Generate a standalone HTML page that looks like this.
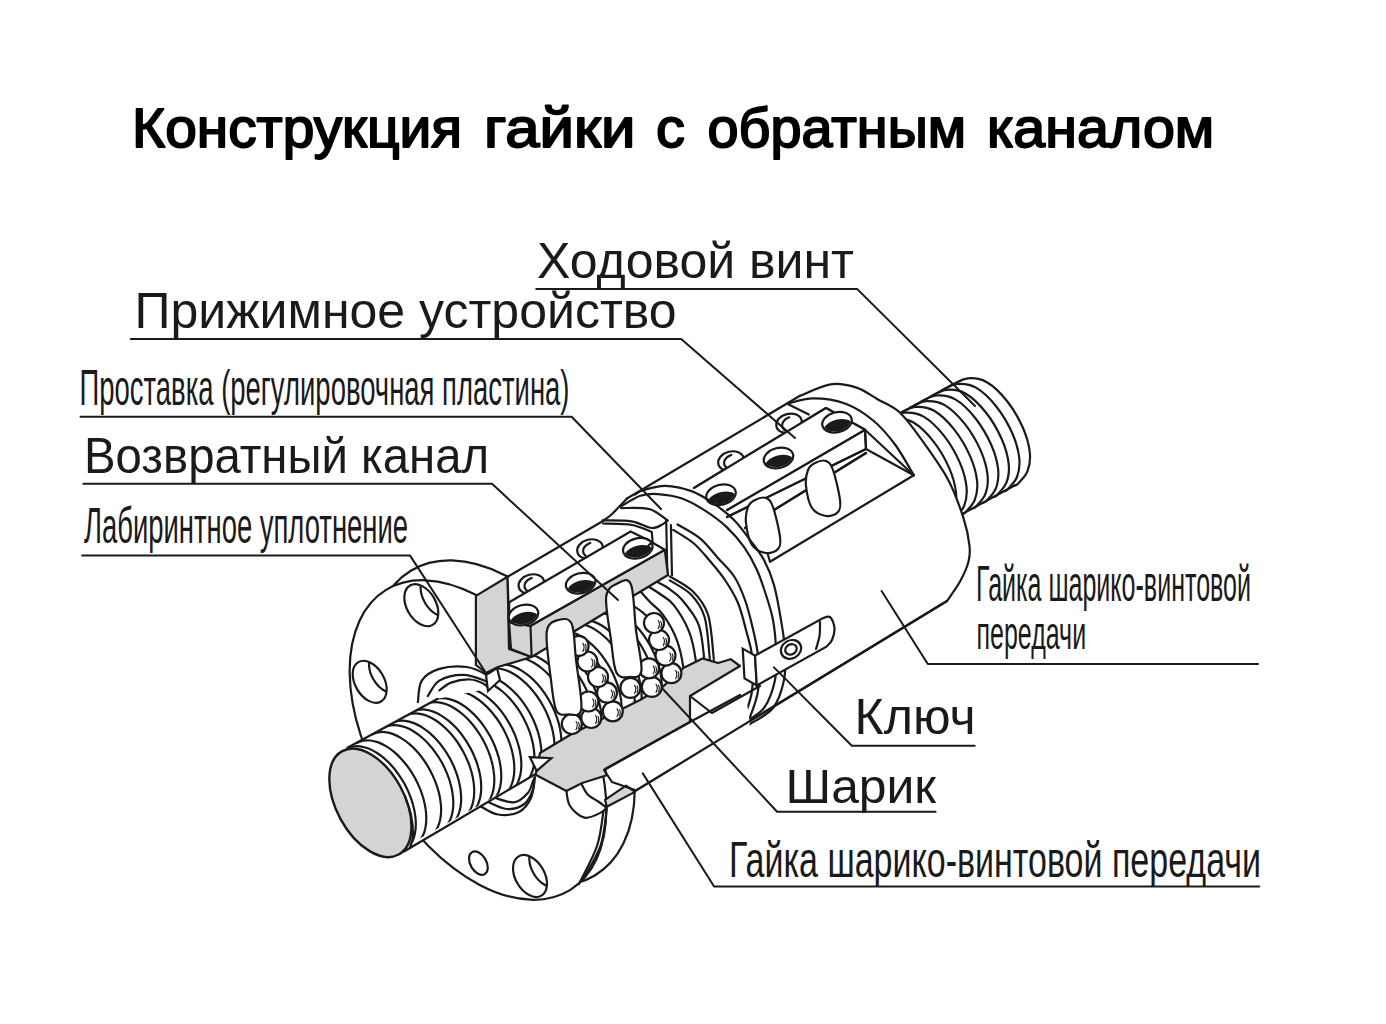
<!DOCTYPE html>
<html><head><meta charset="utf-8">
<style>
html,body{margin:0;padding:0;background:#fff;}
body{width:1386px;height:1024px;overflow:hidden;}
svg{display:block;}
text{font-family:"Liberation Sans",sans-serif;fill:#1a1a1a;}
.t{font-weight:normal;fill:#000;stroke:#000;stroke-width:1.7;stroke-linejoin:round;stroke-linecap:round;}
.ln,.ld{fill:none;stroke:#1a1a1a;stroke-width:2.2;stroke-linejoin:round;stroke-linecap:round;}
.ld{stroke-width:2;}
.wf{fill:#fff;stroke:none;}
.wl{fill:#fff;stroke:#1a1a1a;stroke-width:2.2;}
.gray{fill:#d3d5d5;stroke:#1a1a1a;stroke-width:2.2;stroke-linejoin:round;}
.face{fill:#d3d5d5;stroke:#1a1a1a;stroke-width:2.4;}
.thin{fill:none;stroke:#1a1a1a;stroke-width:1.1;}
.blk{fill:#1a1a1a;stroke:none;}
</style></head><body>
<svg width="1386" height="1024" viewBox="0 0 1386 1024">
<g id="texts">
<text transform="translate(132.0 147.0) scale(1 1.1)" x="0" y="0" font-size="50" textLength="330.1" lengthAdjust="spacingAndGlyphs" class="t">Конструкция</text>
<text transform="translate(484.0 147.0) scale(1 1.1)" x="0" y="0" font-size="50" textLength="151.4" lengthAdjust="spacingAndGlyphs" class="t">гайки</text>
<text transform="translate(656.0 147.0) scale(1 1.1)" x="0" y="0" font-size="50" textLength="29.0" lengthAdjust="spacingAndGlyphs" class="t">с</text>
<text transform="translate(707.5 147.0) scale(1 1.1)" x="0" y="0" font-size="50" textLength="258.6" lengthAdjust="spacingAndGlyphs" class="t">обратным</text>
<text transform="translate(987.0 147.0) scale(1 1.1)" x="0" y="0" font-size="50" textLength="227.3" lengthAdjust="spacingAndGlyphs" class="t">каналом</text>
<text x="537.0" y="277.9" font-size="50.6" textLength="317.0" lengthAdjust="spacingAndGlyphs">Ходовой винт</text>
<text x="134.5" y="327.6" font-size="50.6" textLength="542.1" lengthAdjust="spacingAndGlyphs">Прижимное устройство</text>
<text x="79.5" y="405.4" font-size="49.6" textLength="490.0" lengthAdjust="spacingAndGlyphs">Проставка (регулировочная пластина)</text>
<text x="84.0" y="472.9" font-size="49.6" textLength="405.1" lengthAdjust="spacingAndGlyphs">Возвратный канал</text>
<text x="84.0" y="542.9" font-size="50.1" textLength="324.0" lengthAdjust="spacingAndGlyphs">Лабиринтное уплотнение</text>
<text x="976.0" y="600.8" font-size="50.6" textLength="275.0" lengthAdjust="spacingAndGlyphs">Гайка шарико-винтовой</text>
<text x="976.5" y="648.9" font-size="46.5" textLength="109.6" lengthAdjust="spacingAndGlyphs">передачи</text>
<text x="854.5" y="734.1" font-size="50.6" textLength="121.0" lengthAdjust="spacingAndGlyphs">Ключ</text>
<text x="785.5" y="802.9" font-size="48.9" textLength="150.6" lengthAdjust="spacingAndGlyphs">Шарик</text>
<text x="729.0" y="876.9" font-size="49.3" textLength="532.0" lengthAdjust="spacingAndGlyphs">Гайка шарико-винтовой передачи</text>
</g>
<path class="wf" d="M880 424.6 L952.5 384.5 C955.1 383.5 962.3 378.7 968 378.3 C973.7 377.9 980.4 378.4 986.9 382.2 C993.4 386 1001 393.4 1007 401 C1013 408.6 1019 418.9 1022.8 427.5 C1026.6 436.1 1029 445.2 1029.8 452.5 C1030.6 459.8 1029.5 466 1027.5 471.2 C1025.5 476.5 1020.1 481.4 1018 483.8 C1015.9 486.1 1015.5 485 1015 485.3 L930 531.5 Z"/>
<path class="ln" d="M880 424.6 L952.5 384.5"/>
<path class="ln" d="M952.5 384.5 C955.1 383.5 962.3 378.7 968 378.3 C973.7 377.9 980.4 378.4 986.9 382.2 C993.4 386 1001 393.4 1007 401 C1013 408.6 1019 418.9 1022.8 427.5 C1026.6 436.1 1029 445.2 1029.8 452.5 C1030.6 459.8 1029.5 466 1027.5 471.2 C1025.5 476.5 1020.1 481.4 1018 483.8 C1015.9 486.1 1015.5 485 1015 485.3"/>
<path class="ln" d="M1015 485.3 L930 531.5"/>
<path class="ln" d="M942 390.2 C944.5 389.2 951.7 384.4 957.5 384 C963.2 383.6 969.9 384.1 976.4 387.9 C982.9 391.7 990.5 399.2 996.5 406.7 C1002.4 414.3 1008.5 424.6 1012.3 433.2 C1016.1 441.8 1018.5 450.9 1019.3 458.2 C1020 465.5 1018.9 471.8 1017 477 C1015 482.2 1009.5 487.1 1007.5 489.5 C1005.4 491.8 1005 490.8 1004.5 491"/>
<path class="ln" d="M931.4 396 C934 394.9 941.2 390.1 946.9 389.8 C952.6 389.4 959.3 389.9 965.8 393.7 C972.3 397.4 979.9 404.9 985.9 412.5 C991.9 420 997.9 430.4 1001.7 439 C1005.5 447.5 1007.9 456.7 1008.7 464 C1009.5 471.2 1008.4 477.5 1006.4 482.7 C1004.4 487.9 999 492.9 996.9 495.2 C994.8 497.5 994.4 496.5 993.9 496.8"/>
<path class="ln" d="M920.9 401.7 C923.4 400.6 930.6 395.9 936.4 395.5 C942.1 395.1 948.8 395.6 955.3 399.4 C961.8 403.2 969.4 410.6 975.4 418.2 C981.3 425.7 987.4 436.1 991.2 444.7 C995 453.3 997.4 462.4 998.2 469.7 C998.9 477 997.8 483.2 995.9 488.4 C993.9 493.6 988.4 498.6 986.4 500.9 C984.3 503.3 983.9 502.2 983.4 502.5"/>
<path class="ln" d="M910.3 407.4 C912.9 406.4 920.1 401.6 925.8 401.2 C931.6 400.8 938.2 401.3 944.7 405.1 C951.2 408.9 958.8 416.4 964.8 423.9 C970.8 431.5 976.8 441.8 980.6 450.4 C984.4 459 986.8 468.1 987.6 475.4 C988.4 482.7 987.3 488.9 985.3 494.2 C983.4 499.4 977.9 504.3 975.8 506.7 C973.7 509 973.3 507.9 972.8 508.2"/>
<path class="ln" d="M899.8 413.1 C902.4 412.1 909.5 407.3 915.3 406.9 C921 406.5 927.7 407 934.2 410.8 C940.7 414.6 948.3 422.1 954.3 429.6 C960.3 437.2 966.3 447.5 970.1 456.1 C973.9 464.7 976.3 473.8 977.1 481.1 C977.9 488.4 976.7 494.7 974.8 499.9 C972.8 505.1 967.4 510 965.3 512.4 C963.2 514.7 962.8 513.7 962.3 513.9"/>
<path class="ln" d="M889.2 418.9 C891.8 417.8 899 413 904.7 412.7 C910.5 412.3 917.1 412.8 923.6 416.6 C930.1 420.3 937.7 427.8 943.7 435.4 C949.7 442.9 955.7 453.3 959.5 461.9 C963.3 470.4 965.7 479.6 966.5 486.9 C967.3 494.1 966.2 500.4 964.2 505.6 C962.3 510.8 956.8 515.8 954.7 518.1 C952.6 520.4 952.2 519.4 951.7 519.7"/>
<path class="ln" d="M878.7 424.6 C881.3 423.5 888.4 418.8 894.2 418.4 C899.9 418 906.6 418.5 913.1 422.3 C919.6 426.1 927.2 433.5 933.2 441.1 C939.2 448.6 945.2 459 949 467.6 C952.8 476.2 955.2 485.3 956 492.6 C956.8 499.9 955.6 506.1 953.7 511.3 C951.7 516.5 946.3 521.5 944.2 523.8 C942.1 526.2 941.7 525.1 941.2 525.4"/>
<path class="wf" d="M621.6 504 L800 395.8 C805.1 393.9 821.1 385.7 830.5 384.3 C839.9 382.9 848.6 385.1 856.5 387.6 C864.4 390.1 870.8 395.4 878 399.5 C885.2 403.6 892.6 406 899.7 412.5 C906.8 419 912.6 427.2 920.6 438.4 C928.6 449.5 940.8 466.1 948 479.4 C955.2 492.7 960 507.3 963.6 518.4 C967.2 529.5 968.7 538.5 969.5 545.8 C970.3 553.1 970 556 968.4 562 C966.8 568 963.6 575 960 581.5 C956.4 588 949.2 597.8 947 601 L745 723.4 L750 724 C753.8 721.3 767.3 715.3 773 708 C778.7 700.7 782 689.7 784 680 C786 670.3 785.5 660 785 650 C784.5 640 782.8 630.8 781 620 C779.2 609.2 776.8 595 774 585 C771.2 575 768 567.5 764 560 C760 552.5 755 546.7 750 540 C745 533.3 740.1 526.1 734 520 C727.9 513.9 720.6 508.2 713.5 503.4 C706.4 498.6 699.5 494 691.5 491.1 C683.5 488.2 673.2 486 665.2 485.8 C657.2 485.6 648.2 488.8 643.2 490.2 C638.2 491.6 636.4 493.8 635 494.5 Z"/>
<path class="ln" d="M800 395.8 C805.1 393.9 821.1 385.7 830.5 384.3 C839.9 382.9 848.6 385.1 856.5 387.6 C864.4 390.1 870.8 395.4 878 399.5 C885.2 403.6 892.6 406 899.7 412.5 C906.8 419 912.6 427.2 920.6 438.4 C928.6 449.5 940.8 466.1 948 479.4 C955.2 492.7 960 507.3 963.6 518.4 C967.2 529.5 968.7 538.5 969.5 545.8 C970.3 553.1 970 556 968.4 562 C966.8 568 963.6 575 960 581.5 C956.4 588 949.2 597.8 947 601 L635 791"/>
<path class="ln" d="M787.2 403.8 C791.5 402.9 803.5 398.4 813.2 398.4 C822.9 398.4 835.5 400 845.6 403.8 C855.7 407.6 865.5 414.1 873.8 421 C882.1 427.9 888.7 436 895.4 445 C902.1 454 910.7 470.2 913.8 475.2"/>
<path class="ln" d="M770 561.8 L913.8 475.2"/>
<path class="ln" d="M866 449 L913.8 475.2"/>
<path class="ln" d="M865 429.8 L913.8 475.2"/>
<path class="ln" d="M700 500 L787.2 450"/>
<path class="ln" d="M694 488 L826 408 L865 429.8 L866 449 L727 517"/>
<path class="ln" d="M745 528 L866 453"/>
<path class="ln" d="M727 510 L865 429.8"/>
<path class="ln" d="M787.2 403.8 L808.8 414.6"/>
<path class="ln" d="M766 548 L770 561.8"/>
<ellipse class="wl" cx="731" cy="461" rx="13" ry="9.5" transform="rotate(-14 731 461)"/>
<path class="ln" d="M735 469.5 C734.5 469.5 733 469.7 732 469.7 C731.1 469.6 730.1 469.4 729.3 469.2 C728.5 468.9 727.6 468.5 727 468.1 C726.3 467.6 725.7 467.1 725.3 466.4 C724.8 465.8 724.5 465.1 724.3 464.4 C724.1 463.7 724.1 462.9 724.2 462.2 C724.3 461.4 724.6 460.7 724.9 459.9 C725.3 459.2 725.9 458.5 726.5 457.9 C727.1 457.2 727.9 456.6 728.7 456.2 C729.5 455.7 730.9 455.2 731.3 455"/>
<ellipse class="wl" cx="789" cy="423.3" rx="13" ry="9.5" transform="rotate(-14 789 423.3)"/>
<path class="ln" d="M793 431.8 C792.5 431.8 791 432 790 432 C789.1 431.9 788.1 431.7 787.3 431.5 C786.5 431.2 785.6 430.8 785 430.4 C784.3 429.9 783.7 429.4 783.3 428.7 C782.8 428.1 782.5 427.4 782.3 426.7 C782.1 426 782.1 425.2 782.2 424.5 C782.3 423.7 782.6 423 782.9 422.2 C783.3 421.5 783.9 420.8 784.5 420.2 C785.1 419.5 785.9 418.9 786.7 418.5 C787.5 418 788.9 417.5 789.3 417.3"/>
<path class="wf" d="M660 509 L694 488 L826 408 L865 429.8 L727 510 L700 526 Z"/>
<path class="ln" d="M694 488 L826 408 L865 429.8 L866 449 L727 517"/>
<path class="ln" d="M745 528 L866 453"/>
<path class="ln" d="M727 510 L865 429.8"/>
<ellipse class="wl" cx="721" cy="494.7" rx="15" ry="10" transform="rotate(-14 721 494.7)"/>
<clipPath id="hd1"><ellipse cx="721" cy="494.7" rx="14" ry="9" transform="rotate(-14 721 494.7)"/></clipPath>
<g clip-path="url(#hd1)">
<ellipse class="blk" cx="722.5" cy="501.9" rx="15.8" ry="10" transform="rotate(-14 722.5 501.9)"/>
</g>
<ellipse class="wl" cx="778.5" cy="458" rx="15" ry="10" transform="rotate(-14 778.5 458)"/>
<clipPath id="hd2"><ellipse cx="778.5" cy="458" rx="14" ry="9" transform="rotate(-14 778.5 458)"/></clipPath>
<g clip-path="url(#hd2)">
<ellipse class="blk" cx="780" cy="465.2" rx="15.8" ry="10" transform="rotate(-14 780 465.2)"/>
</g>
<ellipse class="wl" cx="837" cy="422.2" rx="15" ry="10" transform="rotate(-14 837 422.2)"/>
<clipPath id="hd3"><ellipse cx="837" cy="422.2" rx="14" ry="9" transform="rotate(-14 837 422.2)"/></clipPath>
<g clip-path="url(#hd3)">
<ellipse class="blk" cx="838.5" cy="429.4" rx="15.8" ry="10" transform="rotate(-14 838.5 429.4)"/>
</g>
<path class="wl" d="M755 500 C758 498.5 763 496.8 766 498 C769 499.2 770.7 500.5 773 507 C775.3 513.5 779.2 530 780 537 C780.8 544 780.3 546.3 778 549 C775.7 551.7 770.3 553.7 766 553 C761.7 552.3 755.3 550 752 545 C748.7 540 746.7 529.3 746 523 C745.3 516.7 746.5 510.8 748 507 C749.5 503.2 752 501.5 755 500 Z"/>
<path class="wl" d="M815 463 C818 461.5 823 459.8 826 461 C829 462.2 830.7 463.5 833 470 C835.3 476.5 839.2 493 840 500 C840.8 507 840.3 509.3 838 512 C835.7 514.7 830.3 516.7 826 516 C821.7 515.3 815.3 513 812 508 C808.7 503 806.7 492.3 806 486 C805.3 479.7 806.5 473.8 808 470 C809.5 466.2 812 464.5 815 463 Z"/>
<path class="ln" d="M635 494.5 C636.4 493.8 638.2 491.6 643.2 490.2 C648.2 488.8 657.2 485.6 665.2 485.8 C673.2 486 683.5 488.2 691.5 491.1 C699.5 494 706.4 498.6 713.5 503.4 C720.6 508.2 727.9 513.9 734 520 C740.1 526.1 745 533.3 750 540 C755 546.7 760 552.5 764 560 C768 567.5 771.2 575 774 585 C776.8 595 779.2 609.2 781 620 C782.8 630.8 784.5 640 785 650 C785.5 660 786 670.3 784 680 C782 689.7 778.7 700.7 773 708 C767.3 715.3 753.8 721.3 750 724"/>
<path class="ln" d="M621 506.4 C624.2 504.6 634.1 497.9 640.3 495.8 C646.4 493.8 650.9 493.7 657.9 494.1 C664.9 494.6 674.2 495.8 682 498.5 C689.8 501.2 697.2 505.6 704.7 510.4 C712.2 515.2 720.1 520.9 726.7 527.1 C733.3 533.3 739.2 540.2 744.3 547.4 C749.3 554.5 753.4 562.1 757 570 C760.6 577.9 763.3 586.7 766 595 C768.7 603.3 771.3 610.8 773 620 C774.7 629.2 775.7 640 776 650 C776.3 660 777 670.3 775 680 C773 689.7 769 701 764 708 C759 715 748.2 719.7 745 722"/>
<path class="ln" d="M677.5 524.5 C681.3 526.9 693.6 533 700.3 538.6 C707 544.2 712.2 551.5 717.9 557.9 C723.6 564.3 730 570 734.5 577 C739 584 742.1 592 745 600 C747.9 608 749.8 615.7 752 625 C754.2 634.3 757 645 758 656 C759 667 759.5 680.3 758 691 C756.5 701.7 750.5 715.2 749 720"/>
<path class="ln" d="M673.1 529.8 C676.5 532 687.3 538 693.3 543 C699.3 548 703.8 553.8 709.1 560 C714.4 566.2 720.2 572.8 725 580 C729.8 587.2 734.5 594.7 738 603 C741.5 611.3 743.7 621.2 746 630 C748.3 638.8 751 645.8 752 656 C753 666.2 753.3 680.7 752 691 C750.7 701.3 745.3 713.5 744 718"/>
<path class="ln" d="M666.2 520.4 L667.4 575.5"/>
<path class="ln" d="M670.9 525 L672 575.5"/>
<path class="wl" d="M742.7 648.6 L755 655.6 L756.8 685.5 L744.5 678.4 Z"/>
<path class="wl" d="M755 655.6 L821.8 618.7 L821.8 618.7 C823.2 618.4 827.9 615.5 830 617 C832.1 618.5 834.2 624.2 834.5 628 C834.8 631.8 833.4 636.8 832 640 C830.6 643.2 827 645.8 826 647 L756.8 685.5 Z"/>
<path class="ln" d="M820 622 C819.9 624.3 820.2 631.5 819.5 636 C818.8 640.5 816.6 646.8 816 649"/>
<ellipse class="wl" cx="791" cy="649.4" rx="10.5" ry="9" transform="rotate(-30 791 649.4)"/>
<ellipse class="wl" cx="791" cy="649.4" rx="6" ry="5" transform="rotate(-30 791 649.4)"/>
<ellipse class="wl" cx="503" cy="723" rx="178" ry="110" transform="rotate(58.8 503 723)"/>
<ellipse class="wl" cx="478" cy="740" rx="176" ry="105" transform="rotate(58.5 478 740)"/>
<ellipse class="wl" cx="421.3" cy="605.2" rx="22.7" ry="14.6" transform="rotate(60 421.3 605.2)"/>
<clipPath id="fh0"><ellipse cx="421.3" cy="605.2" rx="22.7" ry="14.6" transform="rotate(60 421.3 605.2)"/></clipPath>
<g clip-path="url(#fh0)">
<ellipse class="ln" cx="437.6" cy="595.4" rx="22.7" ry="14.6" transform="rotate(60 437.6 595.4)"/>
</g>
<ellipse class="wl" cx="369.7" cy="681.8" rx="22.7" ry="14.6" transform="rotate(60 369.7 681.8)"/>
<clipPath id="fh1"><ellipse cx="369.7" cy="681.8" rx="22.7" ry="14.6" transform="rotate(60 369.7 681.8)"/></clipPath>
<g clip-path="url(#fh1)">
<ellipse class="ln" cx="386" cy="672" rx="22.7" ry="14.6" transform="rotate(60 386 672)"/>
</g>
<ellipse class="wl" cx="478.4" cy="863.1" rx="12.7" ry="8" transform="rotate(60 478.4 863.1)"/>
<ellipse class="wl" cx="530" cy="876" rx="22.7" ry="14.6" transform="rotate(60 530 876)"/>
<clipPath id="fh3"><ellipse cx="530" cy="876" rx="22.7" ry="14.6" transform="rotate(60 530 876)"/></clipPath>
<g clip-path="url(#fh3)">
<ellipse class="ln" cx="546.3" cy="866.2" rx="22.7" ry="14.6" transform="rotate(60 546.3 866.2)"/>
</g>
<path class="ln" d="M566.4 791 C567 793.5 567 801.5 570 806 C573 810.5 579.2 816.7 584.5 817.7 C589.8 818.7 598.3 813.8 602 812 C605.7 810.2 606 807.7 606.8 806.8"/>
<path class="ln" d="M606.8 808.6 C605.8 814.8 604.7 833.5 600.6 845.5 C596.5 857.5 585.3 874.8 582.2 880.6"/>
<path class="ln" d="M603.5 811 C602.4 816.8 601.1 833.8 597 846 C592.9 858.2 581.9 877.7 578.9 884"/>
<path class="ln" d="M581.5 784 C582.5 785.8 584.9 791.6 587.7 794.5 C590.5 797.4 595.3 799.5 598.2 801.5 C601.1 803.5 604.1 805.9 605.3 806.8"/>
<path class="wf" d="M417.8 706.8 C411.8 689.1 420.6 690 424 684 C427.4 678 433 673.7 438 670.8 C443 667.9 448.2 666.7 453.8 666.4 C459.4 666.1 465 666.1 471.4 669 C477.8 671.9 480.6 668.8 492 684 C503.4 699.2 532.5 744.8 540 760 C547.5 775.2 538.2 768.3 537 775 C535.8 781.7 535.8 793.5 533 800 C530.2 806.5 526.2 811.3 520.4 814 C514.6 816.7 504.7 817 498 816 C491.3 815 486.3 812.3 480 808 C473.7 803.7 470.4 806.9 460 790 C449.6 773.1 423.8 724.5 417.8 706.8 Z"/>
<path class="wf" d="M486 673 L509 649 L531.6 657 L668 575 L693.8 595 L709.4 618.4 L716 650 L716 665 L540 760 L520 782 L488 690 Z"/>
<path class="ln" d="M417.9 702.1 C418.5 698.5 418.2 686.1 421.8 680.6 C425.4 675.1 431.9 671.2 439.4 668.9 C446.9 666.6 458.9 666 466.7 667 C474.5 668 482.1 672.3 486.3 674.8 C490.5 677.3 491.1 680.8 492 682"/>
<path class="ln" d="M427.7 696.2 C429.6 693.6 433.5 684.2 439.4 680.6 C445.2 677 455.3 674.8 462.8 674.8 C470.3 674.8 479.8 678.7 484.3 680.6 C488.8 682.5 489.1 685.1 490 686"/>
<path class="ln" d="M439.4 690.4 C441.3 689.1 446 684.4 451.1 682.6 C456.2 680.8 464.5 679.3 470 679.5 C475.5 679.7 480.7 682.2 484 684 C487.3 685.8 489 689 490 690"/>
<path class="ln" d="M480 806 C483 807.4 491.5 813.5 498 814.5 C504.5 815.5 513.5 814.8 519 812 C524.5 809.2 528.3 803.8 531 798 C533.7 792.2 534.3 780.5 535 777"/>
<path class="ln" d="M486 801 C489.5 802.3 500.4 808.5 506.8 809 C513.2 809.5 520 807.3 524.4 804 C528.8 800.7 531.6 793.5 533.2 789.2 C534.8 784.9 533.9 779.9 534 778"/>
<path class="ln" d="M492.7 797 C496.2 797.9 507.9 803 513.8 802.3 C519.7 801.6 524.8 796.4 528 792.7 C531.2 789.1 532.3 782.5 533.2 780.4"/>
<path class="wf" d="M350.5 747.7 L437.7 698.8 L492 688 L540 770 L543.6 769.3 L404 851.5 Z"/>
<path class="ln" d="M347.4 747.8 L437.7 698.8"/>
<path class="ln" d="M404 851.5 L543.6 769.3"/>
<clipPath id="scr"><path d="M340 752 L437.7 698.8 L492 688 L540 770 L543.6 769.3 L385 858 Z M486 673 L509 649 L531.6 657 L668 575 L693.8 595 L709.4 618.4 L716 650 L716 665 L540 760 L520 782 L488 690 Z"/></clipPath>
<g clip-path="url(#scr)">
<path class="ln" d="M346.6 748.6 C347.6 748.3 350.7 746.8 352.9 746.5 C355.2 746.1 357.6 746 360.1 746.3 C362.6 746.7 365.3 747.3 367.9 748.3 C370.5 749.3 373.3 750.6 375.9 752.3 C378.6 753.9 381.3 755.9 383.9 758.1 C386.5 760.3 389.1 762.8 391.5 765.5 C394 768.2 396.4 771.2 398.5 774.3 C400.7 777.4 402.8 780.7 404.6 784.1 C406.4 787.4 408.1 791 409.5 794.5 C411 798 412.2 801.6 413.1 805.1 C414.1 808.6 414.8 812.2 415.2 815.6 C415.7 818.9 415.9 822.3 415.8 825.4 C415.7 828.5 415.4 831.6 414.8 834.3 C414.2 837.1 413.3 839.6 412.2 841.9 C411.1 844.2 409.8 846.2 408.2 847.9 C406.7 849.6 403.8 851.4 403 852.1"/>
<path class="ln" d="M357 742.8 C358.1 742.4 361.1 741 363.4 740.6 C365.7 740.2 368.1 740.2 370.6 740.5 C373.1 740.8 375.7 741.5 378.4 742.4 C381 743.4 383.7 744.8 386.4 746.4 C389.1 748 391.8 750 394.4 752.2 C397 754.4 399.6 757 402 759.7 C404.5 762.4 406.8 765.3 409 768.4 C411.2 771.5 413.2 774.8 415.1 778.2 C416.9 781.6 418.6 785.1 420 788.6 C421.4 792.1 422.6 795.7 423.6 799.2 C424.5 802.7 425.3 806.3 425.7 809.7 C426.2 813.1 426.3 816.4 426.3 819.5 C426.2 822.7 425.8 825.7 425.3 828.4 C424.7 831.2 423.8 833.8 422.7 836 C421.6 838.3 420.2 840.3 418.7 842 C417.2 843.7 414.3 845.5 413.4 846.2"/>
<path class="ln" d="M371.9 734.4 C372.9 734.1 376 732.6 378.2 732.3 C380.5 731.9 382.9 731.8 385.4 732.2 C387.9 732.5 390.6 733.1 393.2 734.1 C395.8 735.1 398.6 736.5 401.2 738.1 C403.9 739.7 406.6 741.7 409.2 743.9 C411.8 746.1 414.4 748.6 416.8 751.3 C419.3 754 421.7 757 423.8 760.1 C426 763.2 428.1 766.5 429.9 769.9 C431.7 773.2 433.4 776.8 434.8 780.3 C436.2 783.8 437.5 787.4 438.4 790.9 C439.4 794.4 440.1 798 440.5 801.4 C441 804.7 441.2 808.1 441.1 811.2 C441 814.3 440.7 817.4 440.1 820.1 C439.5 822.9 438.6 825.4 437.5 827.7 C436.4 830 435.1 832 433.5 833.7 C432 835.4 429.1 837.2 428.2 837.9"/>
<path class="ln" d="M384.1 727.6 C385.1 727.2 388.2 725.8 390.4 725.4 C392.7 725 395.1 725 397.6 725.3 C400.1 725.6 402.8 726.3 405.4 727.3 C408 728.3 410.8 729.6 413.4 731.2 C416.1 732.9 418.8 734.8 421.4 737 C424 739.3 426.6 741.8 429 744.5 C431.5 747.2 433.9 750.2 436 753.3 C438.2 756.3 440.3 759.7 442.1 763 C443.9 766.4 445.6 769.9 447 773.4 C448.5 776.9 449.7 780.6 450.6 784.1 C451.6 787.6 452.3 791.1 452.7 794.5 C453.2 797.9 453.4 801.2 453.3 804.4 C453.2 807.5 452.9 810.5 452.3 813.3 C451.7 816 450.8 818.6 449.7 820.9 C448.6 823.1 447.3 825.2 445.7 826.9 C444.2 828.5 441.3 830.3 440.5 831"/>
<path class="ln" d="M391.9 723.2 C393 722.8 396 721.4 398.3 721 C400.5 720.6 403 720.6 405.5 720.9 C408 721.2 410.6 721.9 413.2 722.9 C415.9 723.9 418.6 725.2 421.3 726.8 C423.9 728.5 426.7 730.4 429.3 732.6 C431.9 734.9 434.5 737.4 436.9 740.1 C439.3 742.8 441.7 745.8 443.9 748.9 C446.1 751.9 448.1 755.3 450 758.6 C451.8 762 453.5 765.5 454.9 769 C456.3 772.5 457.5 776.1 458.5 779.7 C459.4 783.2 460.1 786.7 460.6 790.1 C461 793.5 461.2 796.8 461.2 800 C461.1 803.1 460.7 806.1 460.1 808.9 C459.5 811.6 458.7 814.2 457.6 816.5 C456.5 818.7 455.1 820.8 453.6 822.4 C452 824.1 449.2 825.9 448.3 826.6"/>
<path class="ln" d="M405 715.9 C406.1 715.5 409.1 714.1 411.4 713.7 C413.6 713.3 416.1 713.3 418.6 713.6 C421.1 713.9 423.7 714.5 426.3 715.5 C429 716.5 431.7 717.9 434.4 719.5 C437 721.1 439.7 723.1 442.3 725.3 C444.9 727.5 447.5 730 450 732.7 C452.4 735.4 454.8 738.4 457 741.5 C459.1 744.6 461.2 747.9 463 751.3 C464.9 754.7 466.5 758.2 468 761.7 C469.4 765.2 470.6 768.8 471.6 772.3 C472.5 775.8 473.2 779.4 473.7 782.8 C474.1 786.1 474.3 789.5 474.2 792.6 C474.2 795.7 473.8 798.8 473.2 801.5 C472.6 804.3 471.8 806.8 470.7 809.1 C469.6 811.4 468.2 813.4 466.7 815.1 C465.1 816.8 462.3 818.6 461.4 819.3"/>
<path class="ln" d="M412 711.9 C413 711.6 416.1 710.1 418.3 709.8 C420.6 709.4 423 709.3 425.5 709.6 C428 710 430.7 710.6 433.3 711.6 C435.9 712.6 438.7 713.9 441.3 715.6 C444 717.2 446.7 719.2 449.3 721.4 C451.9 723.6 454.5 726.1 457 728.8 C459.4 731.5 461.8 734.5 463.9 737.6 C466.1 740.7 468.2 744 470 747.4 C471.9 750.7 473.5 754.3 474.9 757.8 C476.4 761.3 477.6 764.9 478.5 768.4 C479.5 771.9 480.2 775.5 480.7 778.8 C481.1 782.2 481.3 785.6 481.2 788.7 C481.1 791.8 480.8 794.9 480.2 797.6 C479.6 800.4 478.7 802.9 477.6 805.2 C476.5 807.5 475.2 809.5 473.6 811.2 C472.1 812.9 469.2 814.7 468.4 815.4"/>
<path class="ln" d="M425.1 704.6 C426.1 704.2 429.2 702.8 431.4 702.4 C433.7 702 436.1 702 438.6 702.3 C441.1 702.6 443.8 703.3 446.4 704.3 C449 705.3 451.7 706.6 454.4 708.2 C457.1 709.9 459.8 711.8 462.4 714 C465 716.3 467.6 718.8 470 721.5 C472.5 724.2 474.8 727.2 477 730.3 C479.2 733.3 481.3 736.7 483.1 740 C484.9 743.4 486.6 746.9 488 750.4 C489.4 753.9 490.7 757.5 491.6 761.1 C492.6 764.6 493.3 768.1 493.7 771.5 C494.2 774.9 494.4 778.2 494.3 781.4 C494.2 784.5 493.9 787.5 493.3 790.3 C492.7 793 491.8 795.6 490.7 797.9 C489.6 800.1 488.3 802.2 486.7 803.9 C485.2 805.5 482.3 807.3 481.4 808"/>
<path class="ln" d="M432 700.7 C433.1 700.3 436.1 698.9 438.4 698.5 C440.7 698.1 443.1 698.1 445.6 698.4 C448.1 698.7 450.7 699.4 453.4 700.4 C456 701.3 458.7 702.7 461.4 704.3 C464.1 705.9 466.8 707.9 469.4 710.1 C472 712.3 474.6 714.9 477 717.6 C479.4 720.3 481.8 723.3 484 726.3 C486.2 729.4 488.2 732.8 490.1 736.1 C491.9 739.5 493.6 743 495 746.5 C496.4 750 497.6 753.6 498.6 757.1 C499.5 760.7 500.3 764.2 500.7 767.6 C501.2 771 501.3 774.3 501.3 777.5 C501.2 780.6 500.8 783.6 500.3 786.3 C499.7 789.1 498.8 791.7 497.7 793.9 C496.6 796.2 495.2 798.2 493.7 799.9 C492.2 801.6 489.3 803.4 488.4 804.1"/>
<path class="ln" d="M445.1 693.3 C446.2 693 449.2 691.5 451.5 691.2 C453.7 690.8 456.2 690.7 458.7 691 C461.2 691.4 463.8 692 466.4 693 C469.1 694 471.8 695.3 474.5 697 C477.1 698.6 479.9 700.6 482.5 702.8 C485.1 705 487.7 707.5 490.1 710.2 C492.5 712.9 494.9 715.9 497.1 719 C499.3 722.1 501.3 725.4 503.2 728.8 C505 732.1 506.7 735.7 508.1 739.2 C509.5 742.7 510.7 746.3 511.7 749.8 C512.6 753.3 513.3 756.9 513.8 760.3 C514.2 763.6 514.4 767 514.3 770.1 C514.3 773.2 513.9 776.3 513.3 779 C512.7 781.8 511.9 784.3 510.8 786.6 C509.7 788.9 508.3 790.9 506.8 792.6 C505.2 794.3 502.4 796.1 501.5 796.8"/>
<path class="ln" d="M452.1 689.4 C453.1 689.1 456.2 687.6 458.5 687.2 C460.7 686.9 463.2 686.8 465.7 687.1 C468.2 687.4 470.8 688.1 473.4 689.1 C476.1 690.1 478.8 691.4 481.5 693.1 C484.1 694.7 486.8 696.7 489.4 698.9 C492 701.1 494.6 703.6 497.1 706.3 C499.5 709 501.9 712 504.1 715.1 C506.2 718.2 508.3 721.5 510.1 724.9 C512 728.2 513.6 731.8 515.1 735.3 C516.5 738.8 517.7 742.4 518.6 745.9 C519.6 749.4 520.3 753 520.8 756.3 C521.2 759.7 521.4 763.1 521.3 766.2 C521.2 769.3 520.9 772.3 520.3 775.1 C519.7 777.8 518.8 780.4 517.8 782.7 C516.7 785 515.3 787 513.8 788.7 C512.2 790.4 509.4 792.2 508.5 792.9"/>
<path class="ln" d="M465.2 682.1 C466.2 681.7 469.3 680.3 471.5 679.9 C473.8 679.5 476.2 679.5 478.7 679.8 C481.2 680.1 483.9 680.8 486.5 681.8 C489.1 682.7 491.9 684.1 494.5 685.7 C497.2 687.4 499.9 689.3 502.5 691.5 C505.1 693.7 507.7 696.3 510.2 699 C512.6 701.7 515 704.7 517.1 707.7 C519.3 710.8 521.4 714.2 523.2 717.5 C525 720.9 526.7 724.4 528.1 727.9 C529.6 731.4 530.8 735 531.7 738.6 C532.7 742.1 533.4 745.6 533.8 749 C534.3 752.4 534.5 755.7 534.4 758.9 C534.3 762 534 765 533.4 767.8 C532.8 770.5 531.9 773.1 530.8 775.3 C529.7 777.6 528.4 779.6 526.8 781.3 C525.3 783 522.4 784.8 521.6 785.5"/>
<path class="ln" d="M472.1 678.2 C473.2 677.8 476.2 676.4 478.5 676 C480.8 675.6 483.2 675.6 485.7 675.9 C488.2 676.2 490.8 676.9 493.5 677.8 C496.1 678.8 498.8 680.2 501.5 681.8 C504.2 683.4 506.9 685.4 509.5 687.6 C512.1 689.8 514.7 692.4 517.1 695.1 C519.6 697.8 521.9 700.7 524.1 703.8 C526.3 706.9 528.4 710.2 530.2 713.6 C532 717 533.7 720.5 535.1 724 C536.5 727.5 537.8 731.1 538.7 734.6 C539.7 738.1 540.4 741.7 540.8 745.1 C541.3 748.5 541.5 751.8 541.4 754.9 C541.3 758.1 541 761.1 540.4 763.8 C539.8 766.6 538.9 769.2 537.8 771.4 C536.7 773.7 535.4 775.7 533.8 777.4 C532.3 779.1 529.4 780.9 528.5 781.6"/>
<path class="ln" d="M485.2 670.8 C486.3 670.5 489.3 669 491.6 668.6 C493.9 668.3 496.3 668.2 498.8 668.5 C501.3 668.8 503.9 669.5 506.6 670.5 C509.2 671.5 511.9 672.8 514.6 674.5 C517.3 676.1 520 678.1 522.6 680.3 C525.2 682.5 527.8 685 530.2 687.7 C532.6 690.4 535 693.4 537.2 696.5 C539.4 699.6 541.4 702.9 543.3 706.3 C545.1 709.6 546.8 713.2 548.2 716.7 C549.6 720.2 550.8 723.8 551.8 727.3 C552.7 730.8 553.5 734.4 553.9 737.7 C554.4 741.1 554.5 744.5 554.5 747.6 C554.4 750.7 554 753.7 553.4 756.5 C552.9 759.2 552 761.8 550.9 764.1 C549.8 766.4 548.4 768.4 546.9 770.1 C545.4 771.8 542.5 773.6 541.6 774.3"/>
<path class="ln" d="M492.2 666.9 C493.3 666.5 496.3 665.1 498.6 664.7 C500.8 664.3 503.3 664.3 505.8 664.6 C508.3 664.9 510.9 665.6 513.5 666.6 C516.2 667.6 518.9 668.9 521.6 670.6 C524.2 672.2 526.9 674.2 529.6 676.4 C532.2 678.6 534.7 681.1 537.2 683.8 C539.6 686.5 542 689.5 544.2 692.6 C546.4 695.7 548.4 699 550.2 702.4 C552.1 705.7 553.8 709.2 555.2 712.8 C556.6 716.3 557.8 719.9 558.8 723.4 C559.7 726.9 560.4 730.4 560.9 733.8 C561.3 737.2 561.5 740.6 561.4 743.7 C561.4 746.8 561 749.8 560.4 752.6 C559.8 755.3 559 757.9 557.9 760.2 C556.8 762.4 555.4 764.5 553.9 766.2 C552.3 767.9 549.5 769.6 548.6 770.3"/>
<path class="ln" d="M505.3 659.6 C506.3 659.2 509.4 657.8 511.6 657.4 C513.9 657 516.4 657 518.9 657.3 C521.3 657.6 524 658.3 526.6 659.2 C529.3 660.2 532 661.6 534.6 663.2 C537.3 664.8 540 666.8 542.6 669 C545.2 671.2 547.8 673.8 550.3 676.5 C552.7 679.2 555.1 682.1 557.3 685.2 C559.4 688.3 561.5 691.6 563.3 695 C565.2 698.4 566.8 701.9 568.3 705.4 C569.7 708.9 570.9 712.5 571.8 716 C572.8 719.6 573.5 723.1 574 726.5 C574.4 729.9 574.6 733.2 574.5 736.3 C574.4 739.5 574.1 742.5 573.5 745.2 C572.9 748 572 750.6 570.9 752.8 C569.9 755.1 568.5 757.1 567 758.8 C565.4 760.5 562.6 762.3 561.7 763"/>
<path class="ln" d="M512.3 655.7 C513.3 655.3 516.4 653.9 518.6 653.5 C520.9 653.1 523.3 653.1 525.8 653.4 C528.3 653.7 531 654.3 533.6 655.3 C536.2 656.3 539 657.7 541.6 659.3 C544.3 660.9 547 662.9 549.6 665.1 C552.2 667.3 554.8 669.8 557.2 672.5 C559.7 675.2 562.1 678.2 564.2 681.3 C566.4 684.4 568.5 687.7 570.3 691.1 C572.1 694.5 573.8 698 575.2 701.5 C576.7 705 577.9 708.6 578.8 712.1 C579.8 715.6 580.5 719.2 580.9 722.6 C581.4 726 581.6 729.3 581.5 732.4 C581.4 735.6 581.1 738.6 580.5 741.3 C579.9 744.1 579 746.7 577.9 748.9 C576.8 751.2 575.5 753.2 573.9 754.9 C572.4 756.6 569.5 758.4 568.6 759.1"/>
<path class="ln" d="M525.3 648.3 C526.4 648 529.4 646.5 531.7 646.1 C534 645.8 536.4 645.7 538.9 646 C541.4 646.3 544 647 546.7 648 C549.3 649 552 650.3 554.7 652 C557.4 653.6 560.1 655.6 562.7 657.8 C565.3 660 567.9 662.5 570.3 665.2 C572.8 667.9 575.1 670.9 577.3 674 C579.5 677.1 581.6 680.4 583.4 683.8 C585.2 687.1 586.9 690.7 588.3 694.2 C589.7 697.7 591 701.3 591.9 704.8 C592.9 708.3 593.6 711.8 594 715.2 C594.5 718.6 594.7 722 594.6 725.1 C594.5 728.2 594.2 731.2 593.6 734 C593 736.7 592.1 739.3 591 741.6 C589.9 743.8 588.6 745.9 587 747.6 C585.5 749.3 582.6 751 581.7 751.7"/>
<path class="ln" d="M532.3 644.4 C533.4 644 536.4 642.6 538.7 642.2 C540.9 641.8 543.4 641.8 545.9 642.1 C548.4 642.4 551 643.1 553.7 644.1 C556.3 645.1 559 646.4 561.7 648 C564.4 649.7 567.1 651.6 569.7 653.9 C572.3 656.1 574.9 658.6 577.3 661.3 C579.7 664 582.1 667 584.3 670.1 C586.5 673.2 588.5 676.5 590.4 679.8 C592.2 683.2 593.9 686.7 595.3 690.2 C596.7 693.7 597.9 697.4 598.9 700.9 C599.8 704.4 600.5 707.9 601 711.3 C601.4 714.7 601.6 718 601.6 721.2 C601.5 724.3 601.1 727.3 600.5 730.1 C599.9 732.8 599.1 735.4 598 737.7 C596.9 739.9 595.5 742 594 743.7 C592.4 745.4 589.6 747.1 588.7 747.8"/>
<path class="ln" d="M545.4 637.1 C546.5 636.7 549.5 635.3 551.8 634.9 C554 634.5 556.5 634.5 559 634.8 C561.5 635.1 564.1 635.7 566.7 636.7 C569.4 637.7 572.1 639.1 574.8 640.7 C577.4 642.3 580.1 644.3 582.7 646.5 C585.4 648.7 587.9 651.2 590.4 653.9 C592.8 656.6 595.2 659.6 597.4 662.7 C599.5 665.8 601.6 669.1 603.4 672.5 C605.3 675.9 607 679.4 608.4 682.9 C609.8 686.4 611 690 612 693.5 C612.9 697 613.6 700.6 614.1 704 C614.5 707.4 614.7 710.7 614.6 713.8 C614.6 717 614.2 720 613.6 722.7 C613 725.5 612.2 728.1 611.1 730.3 C610 732.6 608.6 734.6 607.1 736.3 C605.5 738 602.7 739.8 601.8 740.5"/>
<path class="ln" d="M552.4 633.1 C553.4 632.8 556.5 631.3 558.7 631 C561 630.6 563.4 630.5 565.9 630.9 C568.4 631.2 571.1 631.8 573.7 632.8 C576.3 633.8 579.1 635.2 581.7 636.8 C584.4 638.4 587.1 640.4 589.7 642.6 C592.3 644.8 594.9 647.3 597.4 650 C599.8 652.7 602.2 655.7 604.3 658.8 C606.5 661.9 608.6 665.2 610.4 668.6 C612.3 671.9 613.9 675.5 615.3 679 C616.8 682.5 618 686.1 618.9 689.6 C619.9 693.1 620.6 696.7 621.1 700.1 C621.5 703.4 621.7 706.8 621.6 709.9 C621.5 713 621.2 716.1 620.6 718.8 C620 721.6 619.1 724.1 618 726.4 C616.9 728.7 615.6 730.7 614 732.4 C612.5 734.1 609.6 735.9 608.8 736.6"/>
<path class="ln" d="M565.5 625.8 C566.5 625.4 569.6 624 571.8 623.6 C574.1 623.2 576.5 623.2 579 623.5 C581.5 623.8 584.2 624.5 586.8 625.5 C589.4 626.5 592.2 627.8 594.8 629.4 C597.5 631.1 600.2 633 602.8 635.3 C605.4 637.5 608 640 610.4 642.7 C612.9 645.4 615.2 648.4 617.4 651.5 C619.6 654.6 621.7 657.9 623.5 661.2 C625.3 664.6 627 668.1 628.4 671.6 C629.8 675.1 631.1 678.8 632 682.3 C633 685.8 633.7 689.3 634.1 692.7 C634.6 696.1 634.8 699.4 634.7 702.6 C634.6 705.7 634.3 708.7 633.7 711.5 C633.1 714.2 632.2 716.8 631.1 719.1 C630 721.3 628.7 723.4 627.1 725.1 C625.6 726.8 622.7 728.5 621.8 729.2"/>
<path class="ln" d="M572.4 621.9 C573.5 621.5 576.5 620.1 578.8 619.7 C581.1 619.3 583.5 619.3 586 619.6 C588.5 619.9 591.1 620.6 593.8 621.6 C596.4 622.6 599.1 623.9 601.8 625.5 C604.5 627.2 607.2 629.1 609.8 631.3 C612.4 633.5 615 636.1 617.4 638.8 C619.9 641.5 622.2 644.5 624.4 647.6 C626.6 650.6 628.6 654 630.5 657.3 C632.3 660.7 634 664.2 635.4 667.7 C636.8 671.2 638 674.8 639 678.4 C639.9 681.9 640.7 685.4 641.1 688.8 C641.6 692.2 641.7 695.5 641.7 698.7 C641.6 701.8 641.2 704.8 640.7 707.6 C640.1 710.3 639.2 712.9 638.1 715.2 C637 717.4 635.6 719.5 634.1 721.1 C632.6 722.8 629.7 724.6 628.8 725.3"/>
<path class="ln" d="M585.5 614.5 C586.6 614.2 589.6 612.7 591.9 612.4 C594.1 612 596.6 611.9 599.1 612.3 C601.6 612.6 604.2 613.2 606.8 614.2 C609.5 615.2 612.2 616.6 614.9 618.2 C617.5 619.8 620.3 621.8 622.9 624 C625.5 626.2 628.1 628.7 630.5 631.4 C632.9 634.1 635.3 637.1 637.5 640.2 C639.7 643.3 641.7 646.6 643.6 650 C645.4 653.3 647.1 656.9 648.5 660.4 C649.9 663.9 651.1 667.5 652.1 671 C653 674.5 653.7 678.1 654.2 681.5 C654.6 684.8 654.8 688.2 654.8 691.3 C654.7 694.4 654.3 697.5 653.7 700.2 C653.1 703 652.3 705.5 651.2 707.8 C650.1 710.1 648.7 712.1 647.2 713.8 C645.6 715.5 642.8 717.3 641.9 718"/>
<path class="ln" d="M592.5 610.6 C593.5 610.3 596.6 608.8 598.9 608.5 C601.1 608.1 603.6 608 606.1 608.3 C608.6 608.7 611.2 609.3 613.8 610.3 C616.5 611.3 619.2 612.6 621.9 614.3 C624.5 615.9 627.2 617.9 629.8 620.1 C632.4 622.3 635 624.8 637.5 627.5 C639.9 630.2 642.3 633.2 644.5 636.3 C646.6 639.4 648.7 642.7 650.5 646.1 C652.4 649.4 654 653 655.5 656.5 C656.9 660 658.1 663.6 659.1 667.1 C660 670.6 660.7 674.2 661.2 677.5 C661.6 680.9 661.8 684.3 661.7 687.4 C661.7 690.5 661.3 693.6 660.7 696.3 C660.1 699.1 659.2 701.6 658.2 703.9 C657.1 706.2 655.7 708.2 654.2 709.9 C652.6 711.6 649.8 713.4 648.9 714.1"/>
<path class="ln" d="M605.6 603.3 C606.6 602.9 609.7 601.5 611.9 601.1 C614.2 600.7 616.6 600.7 619.1 601 C621.6 601.3 624.3 602 626.9 603 C629.5 604 632.3 605.3 634.9 606.9 C637.6 608.6 640.3 610.5 642.9 612.7 C645.5 615 648.1 617.5 650.6 620.2 C653 622.9 655.4 625.9 657.5 629 C659.7 632 661.8 635.4 663.6 638.7 C665.4 642.1 667.1 645.6 668.5 649.1 C670 652.6 671.2 656.2 672.1 659.8 C673.1 663.3 673.8 666.8 674.2 670.2 C674.7 673.6 674.9 676.9 674.8 680.1 C674.7 683.2 674.4 686.2 673.8 689 C673.2 691.7 672.3 694.3 671.2 696.6 C670.1 698.8 668.8 700.9 667.2 702.6 C665.7 704.2 662.8 706 662 706.7"/>
</g>
<path class="ln" d="M641 592 C642.5 593.7 646.4 598.2 650 602 C653.6 605.8 658.5 608.5 662.9 614.7 C667.3 620.9 673.2 630.4 676.6 639.3 C680 648.2 682.2 659.5 683.4 668 C684.6 676.5 683.9 686.3 684 690"/>
<path class="ln" d="M649.2 587 C651 588.2 655.9 591 660 594 C664.1 597 669 598.9 673.8 605.1 C678.6 611.3 685.2 622 688.9 631.1 C692.5 640.2 694.5 651.6 695.7 659.8 C696.9 667.9 696 676.6 696 680"/>
<path class="ln" d="M657.4 582 C659.2 583 663.9 585 668 588 C672.1 591 676.9 593.7 682 599.7 C687.1 605.8 694.8 614.7 698.5 624.3 C702.2 633.9 703.1 649.1 704 657.1 C704.9 665.1 704 669.5 704 672"/>
<path class="ln" d="M669.7 576.4 C673.6 578.9 686.6 585.1 693 591.5 C699.4 597.9 704.6 604 708 614.7 C711.4 625.4 712.6 647.8 713.5 655.7 C714.4 663.6 713.5 661 713.5 662"/>
<path class="ln" d="M669.7 580.4 C673.2 582.8 685.2 588.5 691 594.5 C696.8 600.5 701.4 606.5 704.5 616.7 C707.6 626.9 708.7 648.2 709.5 655.7 C710.3 663.2 709.5 661 709.5 662"/>
<path class="wf" d="M604 770 L745 690 L750 724 L635 791 Z"/>
<path class="gray" d="M535.6 774.8 L566.4 791 L582.2 783 L606.8 775.2 L605 769 L690 722 L690 696 L740 666 L730.6 659.2 L718 663 L702.5 658.4 L683.8 667.8 L662.6 686.9 L640 700 L600 720 L570 735 L540 753 Z"/>
<path class="ln" d="M947 601 L635 791"/>
<path class="gray" d="M605 799.8 L626 785.7 L635 791.9 L606.8 806.8 Z"/>
<path class="ln" d="M606 769 L690 722 L740 695"/>
<path class="ln" d="M690 696 L711.9 713 L760 686"/>
<path class="ln" d="M604 770 L612 782 L635 790"/>
<path class="gray" d="M475.9 595.9 L507.6 576.8 L508.4 620 L509 649 L531.6 657 L498 667 L486 673 L475.9 665 Z"/>
<path class="gray" d="M509 622 L530.5 625.8 L664.8 549.8 L668 575 L531.6 657 L511 649 Z"/>
<path class="ln" d="M530.5 625.8 L531.6 657"/>
<path class="wf" d="M507.6 576.8 L590 525.5 L604 523 L653 533 L655 546 L664.8 549.8 L530.5 625.8 L509 622 Z"/>
<path class="ln" d="M509 622 L507.6 576.8"/>
<ellipse class="wl" cx="531.4" cy="584" rx="13" ry="9.5" transform="rotate(-14 531.4 584)"/>
<path class="ln" d="M535.4 592.5 C534.9 592.5 533.4 592.7 532.4 592.7 C531.5 592.6 530.5 592.4 529.7 592.2 C528.9 591.9 528 591.5 527.4 591.1 C526.7 590.6 526.1 590.1 525.7 589.4 C525.2 588.8 524.9 588.1 524.7 587.4 C524.5 586.7 524.5 585.9 524.6 585.2 C524.7 584.4 525 583.7 525.3 582.9 C525.7 582.2 526.3 581.5 526.9 580.9 C527.5 580.2 528.3 579.6 529.1 579.2 C529.9 578.7 531.3 578.2 531.7 578"/>
<ellipse class="wl" cx="590" cy="549" rx="13" ry="9.5" transform="rotate(-14 590 549)"/>
<path class="ln" d="M594 557.5 C593.5 557.5 592 557.7 591 557.7 C590.1 557.6 589.1 557.4 588.3 557.2 C587.5 556.9 586.6 556.5 586 556.1 C585.3 555.6 584.7 555.1 584.3 554.4 C583.8 553.8 583.5 553.1 583.3 552.4 C583.1 551.7 583.1 550.9 583.2 550.2 C583.3 549.4 583.6 548.7 583.9 547.9 C584.3 547.2 584.9 546.5 585.5 545.9 C586.1 545.2 586.9 544.6 587.7 544.2 C588.5 543.7 589.9 543.2 590.3 543"/>
<path class="wl" d="M509.2 602.2 L630.6 531.6 L648 540 L664.8 549.8 L530.5 625.8 L509 622 Z"/>
<ellipse class="wl" cx="523.5" cy="615" rx="15" ry="10" transform="rotate(-14 523.5 615)"/>
<clipPath id="hd4"><ellipse cx="523.5" cy="615" rx="14" ry="9" transform="rotate(-14 523.5 615)"/></clipPath>
<g clip-path="url(#hd4)">
<ellipse class="blk" cx="525" cy="622.2" rx="15.8" ry="10" transform="rotate(-14 525 622.2)"/>
</g>
<ellipse class="wl" cx="580.6" cy="583.2" rx="15" ry="10" transform="rotate(-14 580.6 583.2)"/>
<clipPath id="hd5"><ellipse cx="580.6" cy="583.2" rx="14" ry="9" transform="rotate(-14 580.6 583.2)"/></clipPath>
<g clip-path="url(#hd5)">
<ellipse class="blk" cx="582.1" cy="590.4" rx="15.8" ry="10" transform="rotate(-14 582.1 590.4)"/>
</g>
<ellipse class="wl" cx="637.8" cy="548.3" rx="15" ry="10" transform="rotate(-14 637.8 548.3)"/>
<clipPath id="hd6"><ellipse cx="637.8" cy="548.3" rx="14" ry="9" transform="rotate(-14 637.8 548.3)"/></clipPath>
<g clip-path="url(#hd6)">
<ellipse class="blk" cx="639.3" cy="555.5" rx="15.8" ry="10" transform="rotate(-14 639.3 555.5)"/>
</g>
<path class="ln" d="M621 508.1 C625.7 508.2 641.3 506.9 649.1 509 C656.9 511.1 664.5 518.5 667.6 520.4"/>
<path class="ln" d="M602.5 520.4 C607.3 520.5 623.3 520 631.5 521.3 C639.7 522.6 646.5 527.5 651.8 528 C657.1 528.5 661.3 524.7 663.2 524 L667.6 520.4"/>
<path class="ln" d="M603 523.5 C607.8 523.8 623.9 523.6 632 525 C640.1 526.4 648.5 530.8 651.8 532 L652.6 541.5 L648 546"/>
<path class="ln" d="M507.6 576.8 L603 521"/>
<path class="ln" d="M627 498.5 L800 395.8"/>
<path class="ln" d="M603 521 C604.5 519.8 608 517.8 612 514 C616 510.2 624.5 501.1 627 498.5"/>
<circle class="wl" cx="571.8" cy="724" r="10"/>
<path class="thin" d="M575.8 721 q3 4 0 9 M578.3 722 q2 3 0 7"/>
<circle class="wl" cx="591.3" cy="718" r="10"/>
<path class="thin" d="M595.3 715 q3 4 0 9 M597.8 716 q2 3 0 7"/>
<circle class="wl" cx="612.8" cy="711.3" r="10"/>
<path class="thin" d="M616.8 708.3 q3 4 0 9 M619.3 709.3 q2 3 0 7"/>
<circle class="wl" cx="588.4" cy="701.5" r="10"/>
<path class="thin" d="M592.4 698.5 q3 4 0 9 M594.9 699.5 q2 3 0 7"/>
<circle class="wl" cx="607" cy="692.7" r="10"/>
<path class="thin" d="M611 689.7 q3 4 0 9 M613.5 690.7 q2 3 0 7"/>
<circle class="wl" cx="598" cy="677" r="10"/>
<path class="thin" d="M602 674 q3 4 0 9 M604.5 675 q2 3 0 7"/>
<circle class="wl" cx="587.4" cy="661.5" r="10"/>
<path class="thin" d="M591.4 658.5 q3 4 0 9 M593.9 659.5 q2 3 0 7"/>
<circle class="wl" cx="630.4" cy="687.9" r="10"/>
<path class="thin" d="M634.4 684.9 q3 4 0 9 M636.9 685.9 q2 3 0 7"/>
<circle class="wl" cx="651.8" cy="686.9" r="10"/>
<path class="thin" d="M655.8 683.9 q3 4 0 9 M658.3 684.9 q2 3 0 7"/>
<circle class="wl" cx="649" cy="668.3" r="10"/>
<path class="thin" d="M653 665.3 q3 4 0 9 M655.5 666.3 q2 3 0 7"/>
<circle class="wl" cx="671.4" cy="673.2" r="10"/>
<path class="thin" d="M675.4 670.2 q3 4 0 9 M677.9 671.2 q2 3 0 7"/>
<circle class="wl" cx="665.5" cy="655.6" r="10"/>
<path class="thin" d="M669.5 652.6 q3 4 0 9 M672 653.6 q2 3 0 7"/>
<circle class="wl" cx="578.6" cy="645.9" r="10"/>
<path class="thin" d="M582.6 642.9 q3 4 0 9 M585.1 643.9 q2 3 0 7"/>
<circle class="wl" cx="659" cy="640" r="10"/>
<path class="thin" d="M663 637 q3 4 0 9 M665.5 638 q2 3 0 7"/>
<circle class="wl" cx="654" cy="623" r="10"/>
<path class="thin" d="M658 620 q3 4 0 9 M660.5 621 q2 3 0 7"/>
<path class="wl" d="M546.8 631.5 C545.4 641.5 549.4 666.8 551 680 C552.6 693.2 553.6 705 556.4 710.7 C559.2 716.4 563.9 714.5 568 714.3 C572.1 714 580 718.2 581.3 709.2 C582.6 700.2 577.6 674.2 576 660 C574.4 645.8 574.6 630.9 571.8 624.2 C569 617.5 563.5 618.6 559.3 619.8 C555.1 621 548.2 621.5 546.8 631.5 Z"/>
<path class="wl" d="M606.2 596.4 C605.1 605.9 609.3 627.3 611 640 C612.7 652.7 613.3 666.4 616.4 672.6 C619.5 678.8 625.4 677.3 629.6 677 C633.8 676.7 640.3 678.8 641.4 671 C642.5 663.2 637.7 644.4 636 630 C634.3 615.6 634 592.5 631 584.7 C628 576.9 622 581.2 617.9 583.2 C613.8 585.2 607.4 586.9 606.2 596.4 Z"/>
<path class="wl" d="M486 675 L497 668 L500 680 L488 691 Z"/>
<path class="wl" d="M529.9 757.2 L551.4 758.2 L536.7 770.9 Z"/>
<ellipse class="face" cx="370.4" cy="802.8" rx="58.9" ry="34" transform="rotate(61.4 370.4 802.8)"/>
<path class="ln" d="M404.8 795.7 C405.8 798.9 409.6 808.5 411 815 C412.4 821.5 413.2 829.5 413 835 C412.8 840.5 410.5 845.8 410 848"/>
<path class="ld" d="M536.2 289.1 L857.3 289.1 L975 406"/>
<path class="ld" d="M130.8 339.1 L681.2 339.1 L795 438"/>
<path class="ld" d="M80.5 416.8 L571.6 416.8 L661 509"/>
<path class="ld" d="M83.3 483.8 L492 483.8 L618 600"/>
<path class="ld" d="M82.2 555.6 L410.1 555.6 L486 673"/>
<path class="ld" d="M1258 664 L927.8 664 L881.6 591"/>
<path class="ld" d="M974.7 745.8 L851.8 745.8 L774 667.4"/>
<path class="ld" d="M935.6 811.7 L777.1 811.7 L662.6 688.8"/>
<path class="ld" d="M1259.2 886.5 L714.1 886.5 L642.8 773.4"/>
</svg>
</body></html>
